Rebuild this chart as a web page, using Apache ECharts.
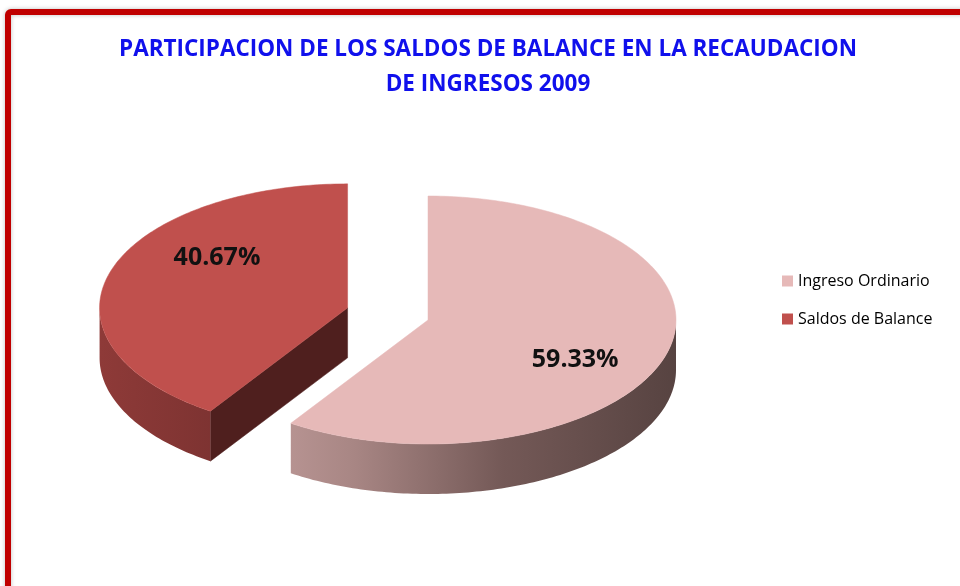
<!DOCTYPE html>
<html>
<head>
<meta charset="utf-8">
<title>Saldos de Balance 2009</title>
<script src="https://cdn.jsdelivr.net/npm/echarts@6/dist/echarts.min.js"></script>
<style>
  html, body { margin: 0; padding: 0; background: #fff; }
  #grafico { width: 960px; height: 586px; }
</style>
</head>
<body>
<div id="grafico"></div>
<script>
// datos
var categorias = ['Ingreso Ordinario', 'Saldos de Balance'];
var valores = [59.33, 40.67];
var colores = ['#E6B9B8', '#C0504D'];
var titulo = ['PARTICIPACION DE LOS SALDOS DE BALANCE EN LA RECAUDACION', 'DE INGRESOS 2009'];

var total = valores.reduce(function (a, b) { return a + b; }, 0);

// pastel 3d: elipse + altura
var cx = 428, cy = 320, rx = 248, ry = 124, alto = 50;
var separado = [0, 84];      // el segundo sector va separado
var inicio = 90;             // empieza a las 12, sentido horario

// colores de los lados
var lados = [
  [[0, '#CFA9A8'], [0.35, '#A88684'], [0.65, '#745957'], [1, '#574341']],
  [[0, '#8E3A38'], [0.5, '#6A2B2A'], [1, '#4F1F1E']]
];
var cortes = ['#6B5250', '#4F1F1E'];

function rad(a) { return a * Math.PI / 180; }

function angulos(i) {
  var acum = 0;
  for (var j = 0; j < i; j++) acum += valores[j];
  var a1 = inicio - acum / total * 360;
  var a0 = a1 - valores[i] / total * 360;
  return [a0, a1];
}

function centro(i) {
  var a = angulos(i), m = rad((a[0] + a[1]) / 2);
  return [cx + separado[i] * Math.cos(m), cy - separado[i] * Math.sin(m) * ry / rx];
}

function punto(o, ang, dz) {
  return [o[0] + rx * Math.cos(rad(ang)), o[1] - ry * Math.sin(rad(ang)) + dz];
}

function arco(o, a0, a1, dz) {
  var pts = [], n = Math.max(2, Math.ceil(Math.abs(a1 - a0)));
  for (var k = 0; k <= n; k++) pts.push(punto(o, a0 + (a1 - a0) * k / n, dz));
  return pts;
}

function dibujarSector(i, params, api) {
  var a = angulos(i), a0 = a[0], a1 = a[1];
  var o = centro(i);
  var hijos = [];

  // caras del corte (solo las que miran al frente)
  [[a0, a0 - 90], [a1, a1 + 90]].forEach(function (c) {
    var s = Math.sin(rad(c[1]));
    if (s < -0.01) {
      var p = punto(o, c[0], 0);
      hijos.push({
        type: 'polygon',
        shape: { points: [[o[0], o[1]], p, [p[0], p[1] + alto], [o[0], o[1] + alto]] },
        style: { fill: cortes[i], stroke: cortes[i], lineWidth: 0.5 }
      });
    }
  });

  // lado exterior, parte frontal
  var grad = new echarts.graphic.LinearGradient(o[0] - rx, 0, o[0] + rx, 0,
    lados[i].map(function (s) { return { offset: s[0], color: s[1] }; }), true);
  for (var k = -2; k <= 2; k++) {
    var lo = Math.max(a0, -180 + 360 * k), hi = Math.min(a1, 360 * k);
    if (hi > lo) {
      var arriba = arco(o, lo, hi, 0);
      var abajo = arco(o, hi, lo, alto);
      hijos.push({
        type: 'polygon',
        shape: { points: arriba.concat(abajo) },
        style: { fill: grad }
      });
    }
  }

  // cara superior
  hijos.push({
    type: 'polygon',
    shape: { points: [[o[0], o[1]]].concat(arco(o, a0, a1, 0)) },
    style: { fill: colores[i], stroke: colores[i], lineWidth: 0.5 }
  });

  // etiqueta
  var m = (a0 + a1) / 2;
  var f = i === 0 ? 0.62 : 0.55;
  hijos.push({
    type: 'text',
    x: o[0] + f * rx * Math.cos(rad(m)),
    y: o[1] - f * ry * Math.sin(rad(m)) + (i === 0 ? 18 : -30),
    style: {
      text: (api.value(0) / total * 100).toFixed(2) + '%',
      fill: '#111',
      fontSize: 25,
      fontWeight: 'bold',
      fontFamily: '"Open Sans", sans-serif',
      align: 'center',
      verticalAlign: 'middle'
    }
  });

  return { type: 'group', children: hijos };
}

var series = categorias.map(function (nombre, i) {
  var a = angulos(i);
  return {
    type: 'custom',
    name: nombre,
    coordinateSystem: 'none',
    silent: true,
    z: 2 - Math.sin(rad((a[0] + a[1]) / 2)),
    itemStyle: { color: colores[i] },
    data: [[valores[i]]],
    renderItem: function (params, api) { return dibujarSector(i, params, api); }
  };
});

var grafico = echarts.init(document.getElementById('grafico'));
grafico.setOption({
  animation: false,
  backgroundColor: '#fff',
  legend: {
    data: categorias,
    orient: 'vertical',
    left: 777,
    top: 268,
    icon: 'rect',
    itemWidth: 11,
    itemHeight: 11,
    itemGap: 22,
    textStyle: { color: '#000', fontSize: 16, fontFamily: '"Open Sans", sans-serif' }
  },
  graphic: [
    {
      type: 'rect',
      shape: { x: 8, y: 12, width: 1000, height: 700, r: 3 },
      style: { fill: 'none', stroke: '#C00000', lineWidth: 6, shadowBlur: 4, shadowColor: 'rgba(0,0,0,0.25)' },
      silent: true
    },
    {
      type: 'text',
      x: 488, y: 50,
      style: {
        text: titulo[0], fill: '#1010EC', fontSize: 22.5, fontWeight: 'bold',
        fontFamily: '"Open Sans", sans-serif', align: 'center', verticalAlign: 'middle'
      }
    },
    {
      type: 'text',
      x: 488, y: 85,
      style: {
        text: titulo[1], fill: '#1010EC', fontSize: 22.5, fontWeight: 'bold',
        fontFamily: '"Open Sans", sans-serif', align: 'center', verticalAlign: 'middle'
      }
    }
  ],
  series: series
});
</script>
</body>
</html>
